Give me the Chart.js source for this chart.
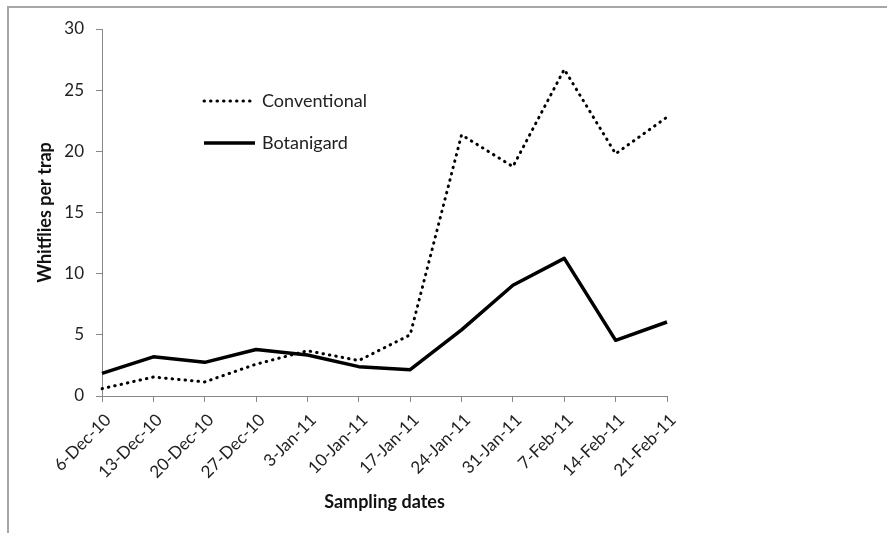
<!DOCTYPE html>
<html>
<head>
<meta charset="utf-8">
<script src="https://cdn.jsdelivr.net/npm/chart.js@4.4.1/dist/chart.umd.min.js"></script>
<style>
html,body{margin:0;padding:0;background:#fff;}
#wrap{width:887px;height:533px;position:relative;}
</style>
</head>
<body>
<div id="wrap"><canvas id="c" width="887" height="533"></canvas></div>
<script>
const categories = ['6-Dec-10','13-Dec-10','20-Dec-10','27-Dec-10','3-Jan-11','10-Jan-11','17-Jan-11','24-Jan-11','31-Jan-11','7-Feb-11','14-Feb-11','21-Feb-11'];
const conventional = [0.6, 1.55, 1.15, 2.6, 3.7, 2.9, 5.0, 21.35, 18.75, 26.7, 19.8, 22.8];
const botanigard = [1.85, 3.2, 2.75, 3.8, 3.35, 2.4, 2.15, 5.4, 9.05, 11.25, 4.55, 6.05];
const yTicks = [0, 5, 10, 15, 20, 25, 30];
const seriesNames = ['Conventional', 'Botanigard'];
const axisTitles = {x: 'Sampling dates', y: 'Whitflies per trap'};

const FONT = 'Lato, "Open Sans", sans-serif';

const framePlugin = {
  id: 'frame',
  beforeDraw(chart) {
    const ctx = chart.ctx;
    ctx.save();
    ctx.fillStyle = '#fff';
    ctx.fillRect(0, 0, chart.width, chart.height);
    ctx.strokeStyle = '#a6a6a6';
    ctx.lineWidth = 2;
    ctx.beginPath();
    ctx.moveTo(8, chart.height);
    ctx.lineTo(8, 7);
    ctx.lineTo(chart.width, 7);
    ctx.stroke();
    ctx.restore();
  }
};

const legendPlugin = {
  id: 'innerLegend',
  afterDraw(chart) {
    const ctx = chart.ctx;
    const rows = [{y: 101}, {y: 143}];
    ctx.save();
    chart.data.datasets.forEach((ds, i) => {
      const y = rows[i].y;
      ctx.strokeStyle = ds.borderColor;
      ctx.lineWidth = ds.borderWidth;
      ctx.lineCap = ds.borderCapStyle || 'butt';
      ctx.setLineDash(ds.borderDash || []);
      ctx.beginPath();
      ctx.moveTo(204, y);
      ctx.lineTo(255, y);
      ctx.stroke();
      ctx.setLineDash([]);
      ctx.fillStyle = '#222';
      ctx.font = '18px ' + FONT;
      ctx.textBaseline = 'middle';
      ctx.textAlign = 'left';
      ctx.fillText(ds.label, 262, y);
    });
    ctx.restore();
  }
};

new Chart(document.getElementById('c'), {
  type: 'line',
  data: {
    labels: categories,
    datasets: [
      {label: seriesNames[0], data: conventional, borderColor: '#000', borderWidth: 3,
       borderDash: [0.5, 6], borderCapStyle: 'round', pointRadius: 0, tension: 0, fill: false},
      {label: seriesNames[1], data: botanigard, borderColor: '#000', borderWidth: 3.5,
       pointRadius: 0, tension: 0, fill: false, borderJoinStyle: 'round'}
    ]
  },
  options: {
    responsive: false,
    animation: false,
    devicePixelRatio: 1,
    layout: {padding: {left: 0, right: 220, top: 29, bottom: 20}},
    plugins: {legend: {display: false}, tooltip: {enabled: false}},
    scales: {
      x: {
        offset: false,
        afterFit(scale) { scale.height = 117; },
        grid: {drawOnChartArea: false, drawTicks: true, tickLength: 6, color: '#888'},
        border: {color: '#888', width: 1},
        ticks: {minRotation: 45, maxRotation: 45, autoSkip: false, color: '#222',
                font: {family: FONT, size: 17}, padding: 8, labelOffset: 6},
        title: {display: true, text: axisTitles.x, color: '#111',
                font: {family: FONT, size: 18, weight: 'bold'}, padding: {top: 0, bottom: 0}}
      },
      y: {
        min: 0, max: 30,
        afterBuildTicks(scale) { scale.ticks = yTicks.map(v => ({value: v})); },
        afterFit(scale) { scale.width = 102; },
        grid: {drawOnChartArea: false, drawTicks: true, tickLength: 6, color: '#888'},
        border: {color: '#888', width: 1},
        ticks: {color: '#222', font: {family: FONT, size: 17}, padding: 12},
        title: {display: true, text: axisTitles.y, color: '#111',
                font: {family: FONT, size: 18, weight: 'bold'}, padding: {top: 34, bottom: 0}}
      }
    }
  },
  plugins: [framePlugin, legendPlugin]
});
</script>
</body>
</html>
